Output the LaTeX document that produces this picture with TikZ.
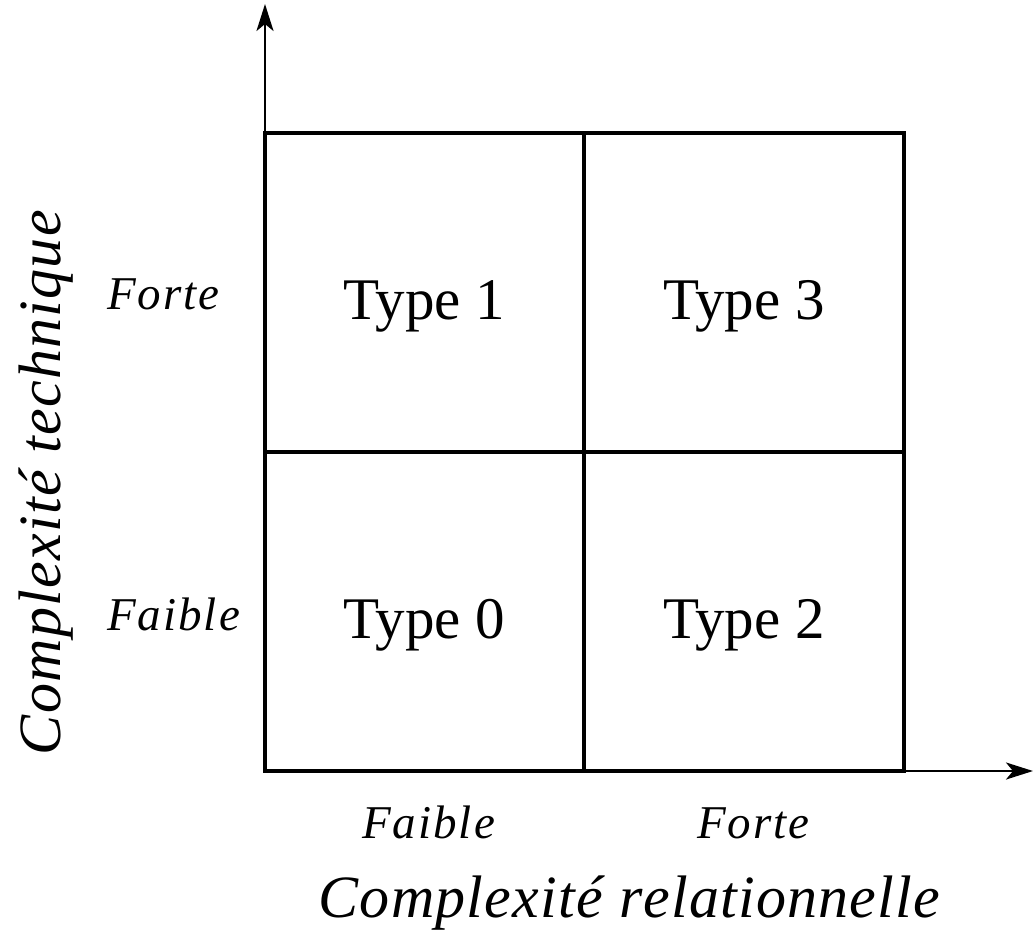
\documentclass[tikz,border=0pt]{standalone}
\usepackage{fontspec}
\setmainfont{Liberation Serif}
\usetikzlibrary{arrows.meta}
\newcommand\lsp[2]{\def\lspamt{#1}\lspA#2\relax}
\def\lspA#1{\ifx#1\relax\else#1\kern\lspamt\expandafter\lspA\fi}
\begin{document}
\begin{tikzpicture}[x=1pt,y=-1pt,
  cell/.style={draw=black,line width=4pt},
  axis/.style={line width=2.5pt,-{Stealth[length=27pt,width=17pt,inset=7pt]}},
  typelab/.style={anchor=base,inner sep=0pt,font=\fontsize{59}{70}\selectfont},
  level/.style={inner sep=0pt,font=\fontsize{47}{56}\selectfont\itshape},
  axlab/.style={inner sep=0pt,font=\fontsize{60}{72}\selectfont\itshape}]
\useasboundingbox (0,0) rectangle (1033,932);
% axes
\coordinate (O) at (265,771);
\coordinate (Ytop) at (265,4);
\coordinate (Xend) at (1033,771);
\draw[axis] (O) -- (Ytop);
\draw[axis] (O) -- (Xend);
% grid
\draw[cell] (265,133) rectangle (904,771);
\draw[cell] (584,133) -- (584,771);
\draw[cell] (265,452) -- (904,452);
% type labels
\node[typelab] (t1) at (424.5,319) {Type 1};
\node[typelab] (t3) at (744,319) {Type 3};
\node[typelab] (t0) at (424.5,638) {Type 0};
\node[typelab] (t2) at (744,638) {Type 2};
% level labels
\node[level,anchor=base west] (lf) at (107,309) {\lsp{2pt}{Forte}};
\node[level,anchor=base west] (lfa) at (107,630) {\lsp{2pt}{Faible}};
\node[level,anchor=base west] (bfa) at (362,838) {\lsp{2pt}{Faible}};
\node[level,anchor=base west] (bf) at (697,838) {\lsp{2pt}{Forte}};
% axis labels
\node[axlab,anchor=base] (xl) at (630,917) {\lsp{1.2pt}{Complexité}\ \lsp{1.2pt}{relationnelle}};
\node[axlab,anchor=base,rotate=90] (yl) at (60,482) {\lsp{1.3pt}{Complexité}\ \lsp{1.3pt}{technique}};
\end{tikzpicture}
\end{document}
